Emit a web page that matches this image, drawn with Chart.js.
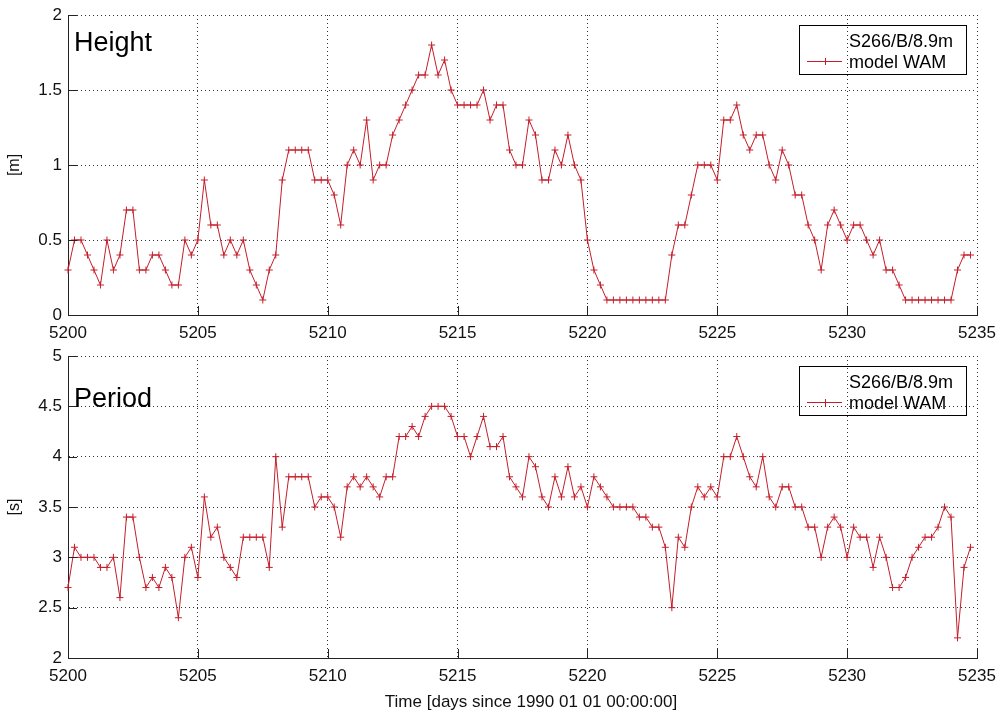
<!DOCTYPE html>
<html lang="en">
<head>
<meta charset="UTF-8">
<title>Height and Period - S266/B/8.9m vs model WAM</title>
<script src="https://cdn.jsdelivr.net/npm/chart.js"></script>
<style>
    body {
        margin: 0;
        background: #fff;
        font-family: 'Liberation Sans', Arial, sans-serif;
    }

    .page {
        position: relative;
        width: 999px;
        height: 718px;
        overflow: hidden;
    }

    canvas {
        position: absolute;
        left: 0;
    }

    #heightChart { top: 0; }
    #periodChart { top: 340px; }

    .panel-label {
        position: absolute;
        left: 74px;
        font-size: 27px;
        line-height: 27px;
        color: #000;
    }

    .x-title {
        position: absolute;
        left: 331px;
        top: 693px;
        width: 400px;
        text-align: center;
        font-size: 17px;
        line-height: 17px;
        color: #111;
        white-space: nowrap;
    }

    .legend {
        position: absolute;
        left: 799px;
        width: 166px;
        height: 48px;
        border: 1px solid #000;
        font-size: 18px;
        line-height: 18px;
        color: #000;
    }

    .legend span {
        position: absolute;
        left: 49px;
        white-space: nowrap;
    }

    .legend .row1 { top: 6px; }
    .legend .row2 { top: 27px; }

    .legend .sample {
        position: absolute;
        left: 7px;
        top: 35px;
        width: 35px;
        height: 1px;
        background: #c41e2a;
    }

    .legend .sample-mark {
        position: absolute;
        left: 25px;
        top: 32px;
        width: 1px;
        height: 7px;
        background: #c41e2a;
    }
</style>
</head>
<body>
<div class="page">
    <canvas id="heightChart" width="999" height="340"></canvas>
    <canvas id="periodChart" width="999" height="378"></canvas>

    <div class="panel-label" style="top: 29px;">Height</div>
    <div class="panel-label" style="top: 385px;">Period</div>

    <div class="legend" style="top: 25px;">
        <span class="row1">S266/B/8.9m</span>
        <div class="sample"></div>
        <div class="sample-mark"></div>
        <span class="row2">model WAM</span>
    </div>
    <div class="legend" style="top: 366px;">
        <span class="row1">S266/B/8.9m</span>
        <div class="sample"></div>
        <div class="sample-mark"></div>
        <span class="row2">model WAM</span>
    </div>

    <div class="x-title">Time [days since 1990 01 01 00:00:00]</div>
</div>

<script>
// time axis, 6-hourly steps (days since 1990 01 01)
const days = [
    5200, 5200.25, 5200.5, 5200.75, 5201, 5201.25, 5201.5, 5201.75,
    5202, 5202.25, 5202.5, 5202.75, 5203, 5203.25, 5203.5, 5203.75,
    5204, 5204.25, 5204.5, 5204.75, 5205, 5205.25, 5205.5, 5205.75,
    5206, 5206.25, 5206.5, 5206.75, 5207, 5207.25, 5207.5, 5207.75,
    5208, 5208.25, 5208.5, 5208.75, 5209, 5209.25, 5209.5, 5209.75,
    5210, 5210.25, 5210.5, 5210.75, 5211, 5211.25, 5211.5, 5211.75,
    5212, 5212.25, 5212.5, 5212.75, 5213, 5213.25, 5213.5, 5213.75,
    5214, 5214.25, 5214.5, 5214.75, 5215, 5215.25, 5215.5, 5215.75,
    5216, 5216.25, 5216.5, 5216.75, 5217, 5217.25, 5217.5, 5217.75,
    5218, 5218.25, 5218.5, 5218.75, 5219, 5219.25, 5219.5, 5219.75,
    5220, 5220.25, 5220.5, 5220.75, 5221, 5221.25, 5221.5, 5221.75,
    5222, 5222.25, 5222.5, 5222.75, 5223, 5223.25, 5223.5, 5223.75,
    5224, 5224.25, 5224.5, 5224.75, 5225, 5225.25, 5225.5, 5225.75,
    5226, 5226.25, 5226.5, 5226.75, 5227, 5227.25, 5227.5, 5227.75,
    5228, 5228.25, 5228.5, 5228.75, 5229, 5229.25, 5229.5, 5229.75,
    5230, 5230.25, 5230.5, 5230.75, 5231, 5231.25, 5231.5, 5231.75,
    5232, 5232.25, 5232.5, 5232.75, 5233, 5233.25, 5233.5, 5233.75,
    5234, 5234.25, 5234.5, 5234.75
];

// model WAM wave height [m]
const heightM = [
    0.3, 0.5, 0.5, 0.4, 0.3, 0.2, 0.5, 0.3, 0.4, 0.7,
    0.7, 0.3, 0.3, 0.4, 0.4, 0.3, 0.2, 0.2, 0.5, 0.4,
    0.5, 0.9, 0.6, 0.6, 0.4, 0.5, 0.4, 0.5, 0.3, 0.2,
    0.1, 0.3, 0.4, 0.9, 1.1, 1.1, 1.1, 1.1, 0.9, 0.9,
    0.9, 0.8, 0.6, 1.0, 1.1, 1.0, 1.3, 0.9, 1.0, 1.0,
    1.2, 1.3, 1.4, 1.5, 1.6, 1.6, 1.8, 1.6, 1.7, 1.5,
    1.4, 1.4, 1.4, 1.4, 1.5, 1.3, 1.4, 1.4, 1.1, 1.0,
    1.0, 1.3, 1.2, 0.9, 0.9, 1.1, 1.0, 1.2, 1.0, 0.9,
    0.5, 0.3, 0.2, 0.1, 0.1, 0.1, 0.1, 0.1, 0.1, 0.1,
    0.1, 0.1, 0.1, 0.4, 0.6, 0.6, 0.8, 1.0, 1.0, 1.0,
    0.9, 1.3, 1.3, 1.4, 1.2, 1.1, 1.2, 1.2, 1.0, 0.9,
    1.1, 1.0, 0.8, 0.8, 0.6, 0.5, 0.3, 0.6, 0.7, 0.6,
    0.5, 0.6, 0.6, 0.5, 0.4, 0.5, 0.3, 0.3, 0.2, 0.1,
    0.1, 0.1, 0.1, 0.1, 0.1, 0.1, 0.1, 0.3, 0.4, 0.4
];

// model WAM wave period [s]
const periodS = [
    2.7, 3.1, 3.0, 3.0, 3.0, 2.9, 2.9, 3.0, 2.6, 3.4,
    3.4, 3.0, 2.7, 2.8, 2.7, 2.9, 2.8, 2.4, 3.0, 3.1,
    2.8, 3.6, 3.2, 3.3, 3.0, 2.9, 2.8, 3.2, 3.2, 3.2,
    3.2, 2.9, 4.0, 3.3, 3.8, 3.8, 3.8, 3.8, 3.5, 3.6,
    3.6, 3.5, 3.2, 3.7, 3.8, 3.7, 3.8, 3.7, 3.6, 3.8,
    3.8, 4.2, 4.2, 4.3, 4.2, 4.4, 4.5, 4.5, 4.5, 4.4,
    4.2, 4.2, 4.0, 4.2, 4.4, 4.1, 4.1, 4.2, 3.8, 3.7,
    3.6, 4.0, 3.9, 3.6, 3.5, 3.8, 3.6, 3.9, 3.6, 3.7,
    3.5, 3.8, 3.7, 3.6, 3.5, 3.5, 3.5, 3.5, 3.4, 3.4,
    3.3, 3.3, 3.1, 2.5, 3.2, 3.1, 3.5, 3.7, 3.6, 3.7,
    3.6, 4.0, 4.0, 4.2, 4.0, 3.8, 3.7, 4.0, 3.6, 3.5,
    3.7, 3.7, 3.5, 3.5, 3.3, 3.3, 3.0, 3.3, 3.4, 3.3,
    3.0, 3.3, 3.2, 3.2, 2.9, 3.2, 3.0, 2.7, 2.7, 2.8,
    3.0, 3.1, 3.2, 3.2, 3.3, 3.5, 3.4, 2.2, 2.9, 3.1
];

const xTicks = [5200, 5205, 5210, 5215, 5220, 5225, 5230, 5235];
const heightTicks = [0, 0.5, 1, 1.5, 2];
const periodTicks = [2, 2.5, 3, 3.5, 4, 4.5, 5];

const seriesName = 'model WAM';

const RED = '#c41e2a';
const AXIS = '#222';
const GRID = '#333';

Chart.defaults.font.family = "'Liberation Sans', Arial, Helvetica, sans-serif";
Chart.defaults.font.size = 17;
Chart.defaults.color = '#111';

function useTicks(list) {
    return function(scale) {
        scale.ticks = list.map(v => ({ value: v }));
    };
}

// matlab style: short tick marks pointing into the plot
const innerTicks = {
    id: 'innerTicks',
    afterDraw(chart) {
        const { ctx, chartArea: a, scales } = chart;
        ctx.save();
        ctx.strokeStyle = AXIS;
        ctx.lineWidth = 1;
        ctx.beginPath();
        scales.x.ticks.forEach(t => {
            const px = Math.round(scales.x.getPixelForValue(t.value)) + 0.5;
            ctx.moveTo(px, a.bottom);
            ctx.lineTo(px, a.bottom - 9);
        });
        scales.y.ticks.forEach(t => {
            const py = Math.round(scales.y.getPixelForValue(t.value)) + 0.5;
            ctx.moveTo(a.left, py);
            ctx.lineTo(a.left + 9, py);
        });
        ctx.stroke();
        ctx.restore();
    }
};

function makeChart(id, values, yTicks, yTitle, topPad, xAxisHeight) {
    const ctx = document.getElementById(id).getContext('2d');
    return new Chart(ctx, {
        type: 'line',
        data: {
            labels: days,
            datasets: [{
                label: seriesName,
                data: values,
                borderColor: RED,
                borderWidth: 1,
                pointStyle: 'cross',
                pointRadius: 3.5,
                pointBorderColor: RED,
                pointBorderWidth: 1,
                pointBackgroundColor: RED,
                tension: 0,
                fill: false,
                clip: 4
            }]
        },
        options: {
            responsive: false,
            animation: false,
            devicePixelRatio: 1,
            layout: {
                padding: { top: topPad, right: 22, bottom: 0, left: 0 }
            },
            plugins: {
                legend: { display: false },
                tooltip: { enabled: false }
            },
            scales: {
                x: {
                    type: 'linear',
                    min: xTicks[0],
                    max: xTicks[xTicks.length - 1],
                    afterBuildTicks: useTicks(xTicks),
                    afterFit: s => {
                        s.height = xAxisHeight;
                        s.paddingLeft = 0;
                        s.paddingRight = 0;
                    },
                    grid: { color: GRID, lineWidth: 1, drawTicks: false },
                    border: { display: true, color: AXIS, width: 1, dash: [1, 3] },
                    ticks: {
                        padding: 8,
                        maxRotation: 0,
                        autoSkip: false,
                        callback: v => String(v)
                    }
                },
                y: {
                    min: yTicks[0],
                    max: yTicks[yTicks.length - 1],
                    afterBuildTicks: useTicks(yTicks),
                    afterFit: s => {
                        s.width = 68;
                        s.paddingTop = 0;
                        s.paddingBottom = 0;
                    },
                    grid: { color: GRID, lineWidth: 1, drawTicks: false },
                    border: { display: true, color: AXIS, width: 1, dash: [1, 3] },
                    ticks: { padding: 6, callback: v => String(v) },
                    title: {
                        display: true,
                        text: yTitle,
                        padding: 5,
                        font: { size: 16 }
                    }
                }
            }
        },
        plugins: [innerTicks]
    });
}

makeChart('heightChart', heightM, heightTicks, '[m]', 15, 25);
makeChart('periodChart', periodS, periodTicks, '[s]', 16, 60);
</script>
</body>
</html>
